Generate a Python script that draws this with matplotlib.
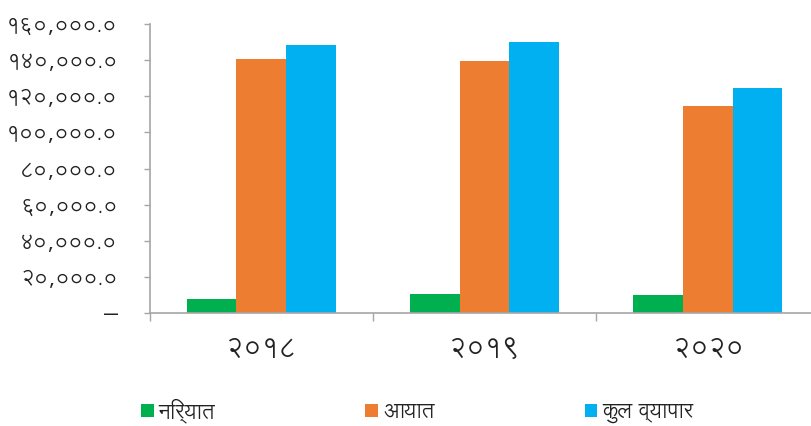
import matplotlib
matplotlib.use("Agg")
import matplotlib.pyplot as plt
import numpy as np
from matplotlib.ticker import FixedLocator, FixedFormatter

plt.rcParams['font.family'] = ['Lohit Devanagari', 'Noto Sans Devanagari', 'DejaVu Sans']

categories = ['२०१८', '२०१९', '२०२०']
series_names = ['निर्यात', 'आयात', 'कुल व्यापार']
exports = [8100, 10500, 10000]
imports = [140500, 139500, 114600]
total = [148600, 150000, 124600]
colors = ['#00B050', '#ED7D31', '#00B0F0']
ytick_values = [0, 20000, 40000, 60000, 80000, 100000, 120000, 140000, 160000]
ytick_labels = ['–', '२०,०००.०', '४०,०००.०', '६०,०००.०', '८०,०००.०',
                '१००,०००.०', '१२०,०००.०', '१४०,०००.०', '१६०,०००.०']

fig = plt.figure(figsize=(8.12, 4.26), dpi=100)
ax = fig.add_axes([149.5/812, 1-313.3/426, (819.5-149.5)/812, (313.3-24)/426])

x = np.arange(len(categories))
w = 0.222
bars = []
for i, (vals, name, c) in enumerate(zip([exports, imports, total], series_names, colors)):
    b = ax.bar(x + (i-1)*w, vals, width=w, color=c, label=name, edgecolor='none')
    bars.append(b)

ax.set_xlim(-0.5, 2.5)
ax.set_ylim(0, 160000)
ax.set_yticks(ytick_values)
ax.set_yticklabels(ytick_labels, fontsize=15.5, color='#222222')

ax.xaxis.set_major_locator(FixedLocator([-0.5, 0.5, 1.5, 2.5]))
ax.xaxis.set_major_formatter(FixedFormatter(['', '', '', '']))
ax.xaxis.set_minor_locator(FixedLocator(list(x)))
ax.xaxis.set_minor_formatter(FixedFormatter(categories))
ax.tick_params(axis='x', which='major', direction='out', length=6, width=1.0, color='#A6A6A6')
ax.tick_params(axis='x', which='minor', length=0, pad=16, labelsize=19.5, labelcolor='#222222')
ax.tick_params(axis='y', direction='out', length=4, width=1.0, color='#A6A6A6', pad=19)

for s in ['top', 'right']:
    ax.spines[s].set_visible(False)
for s in ['left', 'bottom']:
    ax.spines[s].set_color('#A6A6A6')
    ax.spines[s].set_linewidth(1.2)

handles = [b[0] for b in bars]
leg = fig.legend(handles, series_names, loc='center left', bbox_to_anchor=(141/812, 1-411/426),
                 ncol=3, frameon=False, fontsize=15, handlelength=0.6, handleheight=0.6,
                 handletextpad=0.25, columnspacing=7.2, borderaxespad=0, borderpad=0)
for t in leg.get_texts():
    t.set_color('#222222')

fig.savefig("out.png", dpi=100)
